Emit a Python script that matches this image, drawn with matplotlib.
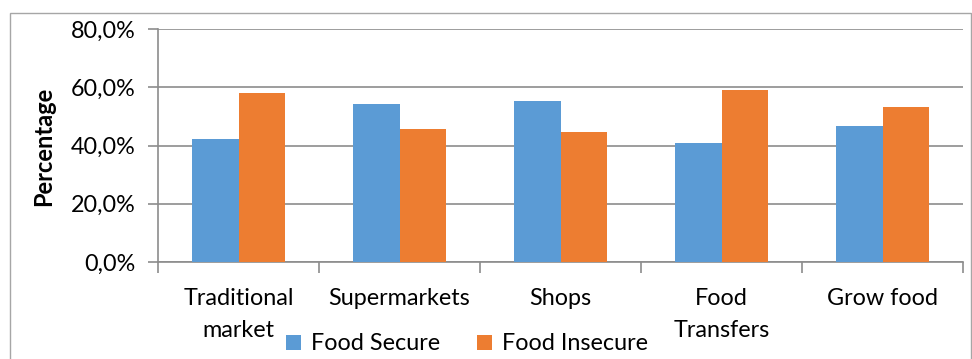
import matplotlib.pyplot as plt
import matplotlib.patches as mpatches
import numpy as np
from matplotlib.ticker import FuncFormatter

categories = ['Traditional\nmarket', 'Supermarkets', 'Shops', 'Food\nTransfers', 'Grow food']
food_secure = [42.1, 54.4, 55.4, 40.8, 46.6]
food_insecure = [57.9, 45.6, 44.6, 59.1, 53.3]
series_names = ['Food Secure', 'Food Insecure']
colors = ['#5B9BD5', '#ED7D31']

plt.rcParams['font.family'] = ['Lato', 'DejaVu Sans']
fs = 16.8

fig = plt.figure(figsize=(9.72, 3.59), dpi=100)
ax = fig.add_axes([158 / 972, 1 - 262 / 359, (963 - 158) / 972, (262 - 29) / 359])

x = np.arange(len(categories))
w = 0.286
b1 = ax.bar(x - w / 2, food_secure, w, color=colors[0], label=series_names[0], zorder=3)
b2 = ax.bar(x + w / 2, food_insecure, w, color=colors[1], label=series_names[1], zorder=3)

ax.set_xlim(-0.5, len(categories) - 0.5)
ax.set_ylim(0, 80)
ax.set_yticks([0, 20, 40, 60, 80])
ax.yaxis.set_major_formatter(FuncFormatter(lambda v, p: f'{v:.1f}%'.replace('.', ',')))
ax.grid(axis='y', color='#8C8C8C', linewidth=1.2, zorder=0)

ax.set_xticks(x)
ax.set_xticklabels(categories, fontsize=fs, linespacing=1.6)
ax.set_xticks(np.arange(len(categories) + 1) - 0.5, minor=True)
ax.tick_params(axis='x', which='major', length=0, pad=19)
ax.tick_params(axis='x', which='minor', length=8, width=1.2, color='#8C8C8C')
ax.tick_params(axis='y', length=7, width=1.2, color='#8C8C8C', labelsize=fs, pad=9)

for side in ['top', 'right']:
    ax.spines[side].set_visible(False)
for side in ['left', 'bottom']:
    ax.spines[side].set_color('#8C8C8C')
    ax.spines[side].set_linewidth(1.2)

# y-axis title
fig.text(44 / 972, 1 - 146 / 359, 'Percentage', rotation=90, ha='center', va='center',
         fontsize=17, fontweight='bold')

fig.legend(handles=[b1, b2], labels=series_names, loc='center',
           bbox_to_anchor=(467 / 972, 1 - 344 / 359), ncol=2, frameon=False,
           fontsize=fs, handlelength=0.65, handleheight=0.65, handletextpad=0.4,
           columnspacing=1.6, borderpad=0)

# chart border
fig.patches.append(mpatches.Rectangle((10 / 972, -0.2), 961 / 972, 1.2 - 13 / 359,
                                      transform=fig.transFigure, fill=False,
                                      edgecolor='#A6A6A6', linewidth=1.0))

fig.savefig('out.png', dpi=100)
